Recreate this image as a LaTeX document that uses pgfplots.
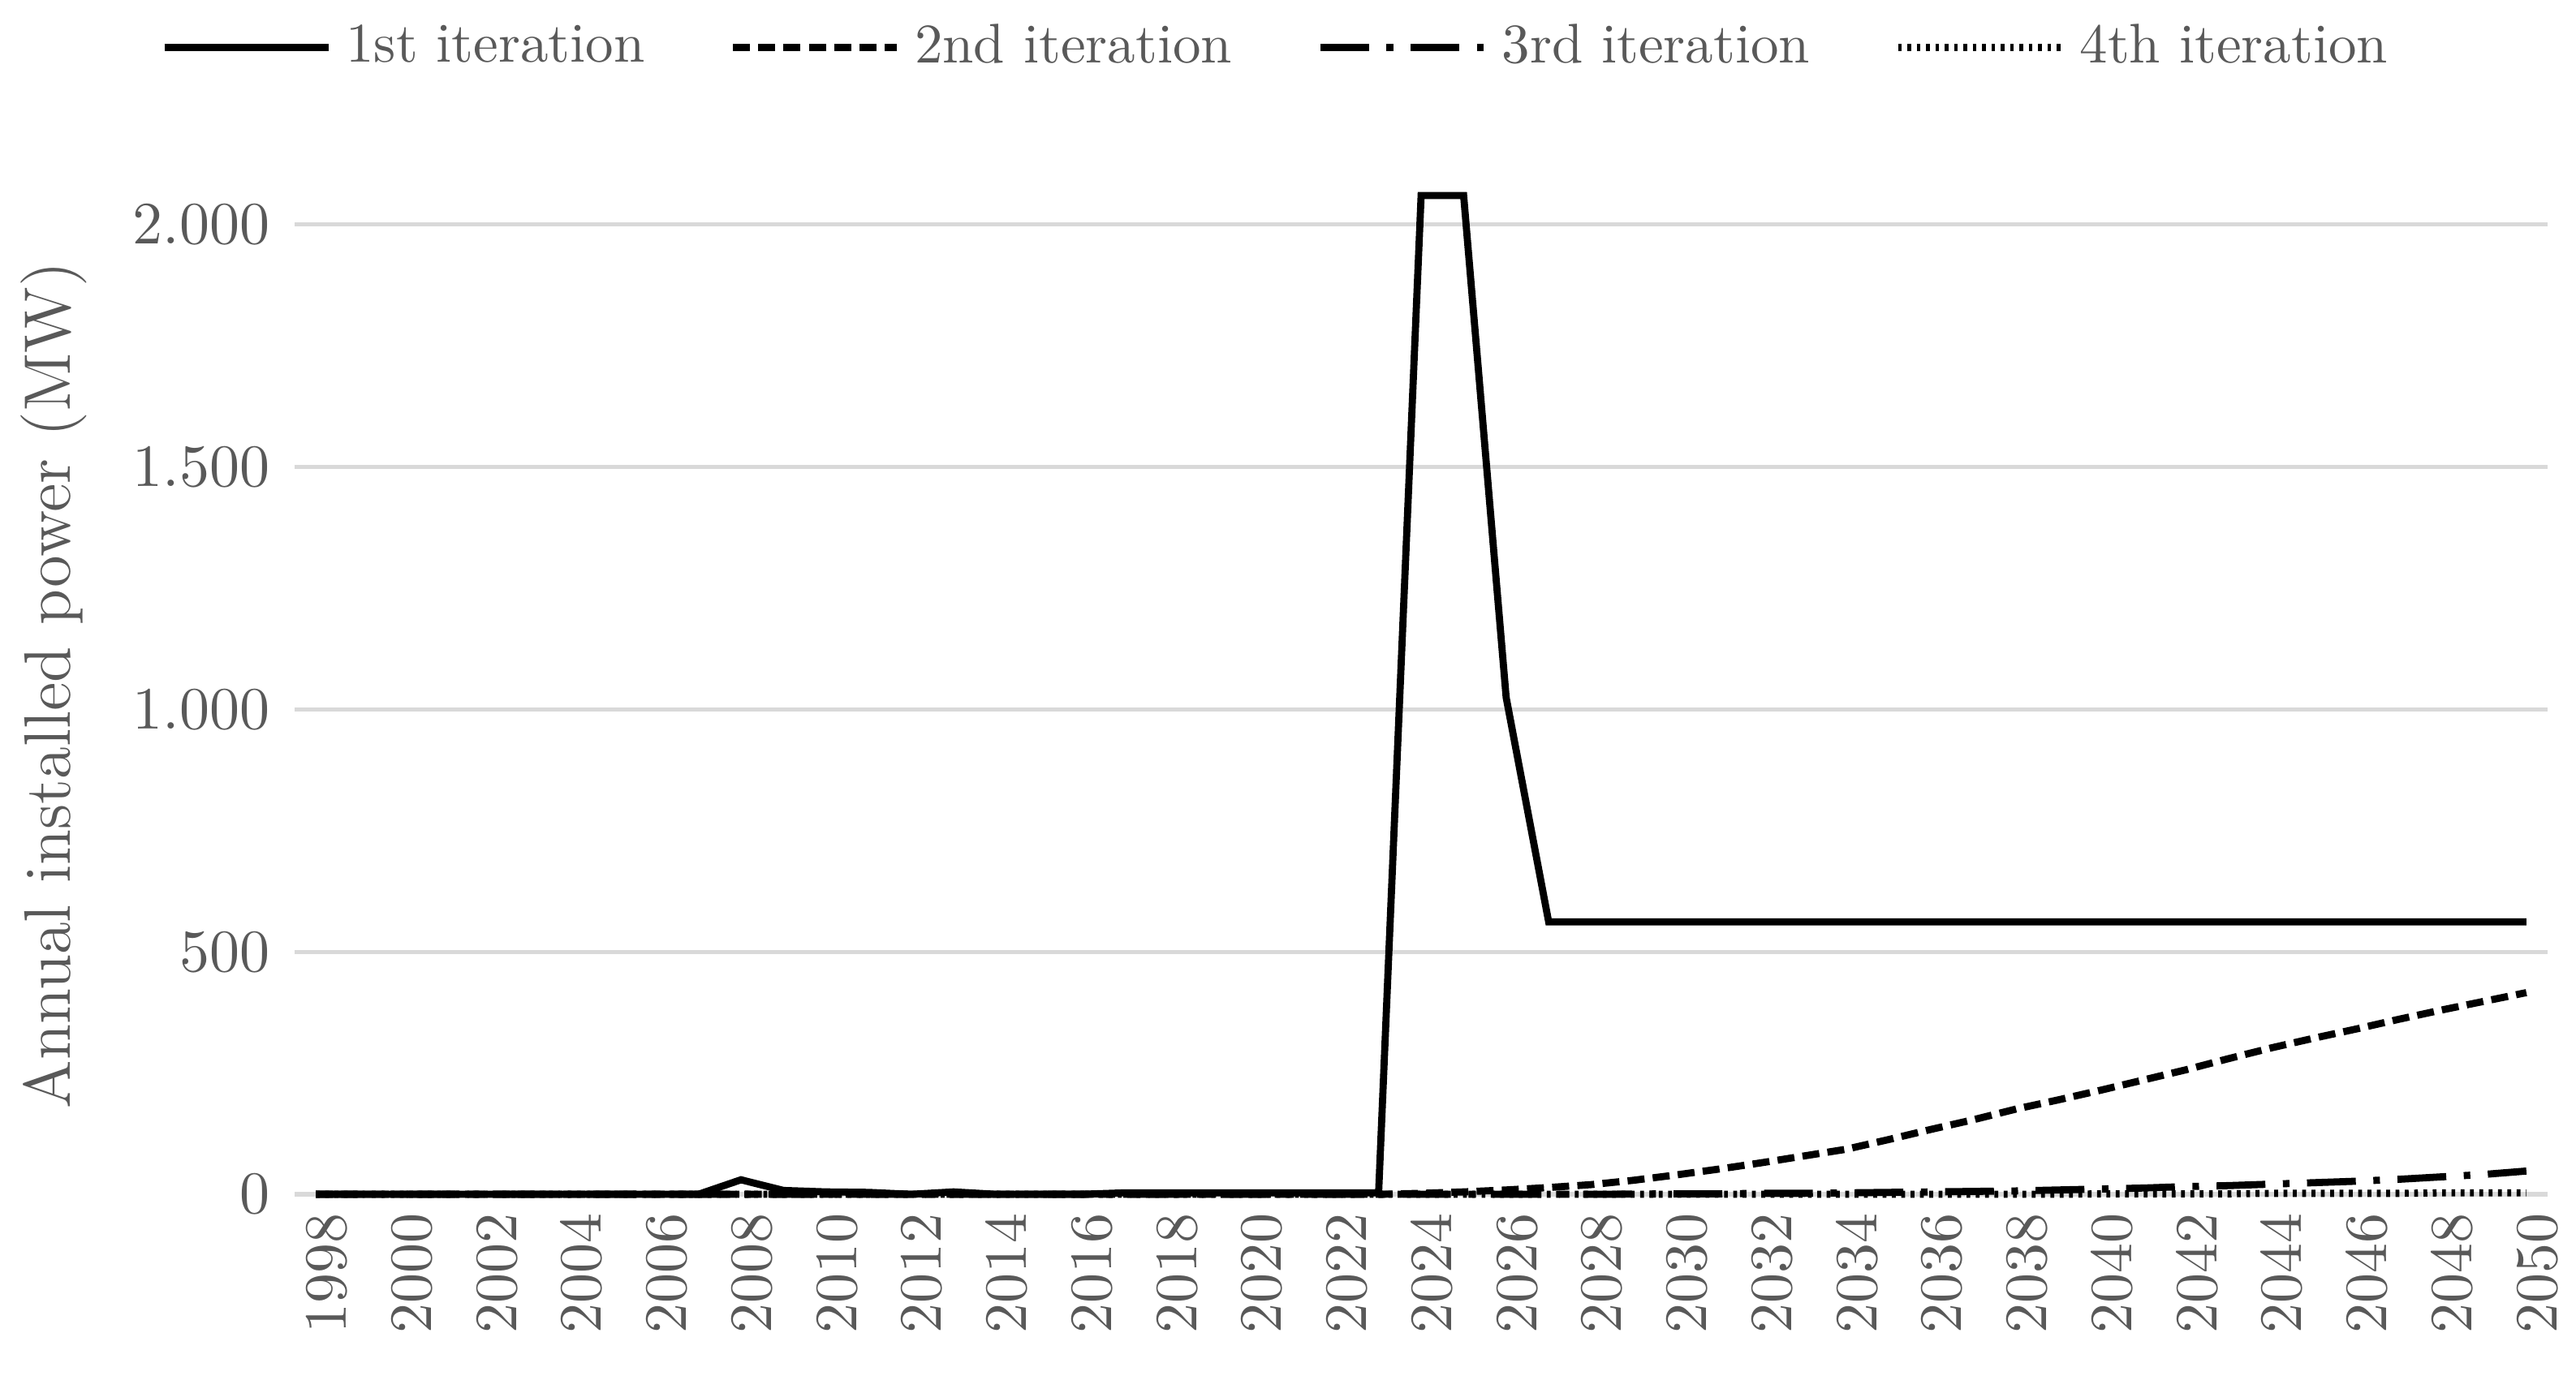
\documentclass[border=0pt]{standalone}
\usepackage{pgfplots}
\pgfplotsset{compat=1.18}
\definecolor{txt}{HTML}{595959}
\definecolor{gridc}{HTML}{D9D9D9}
\begin{document}
\begin{tikzpicture}
\begin{axis}[
  name=ax,
  width=14.435cm, height=6.526cm, scale only axis,
  xmin=1997.5, xmax=2050.5, ymin=0, ymax=2100,
  clip=false,
  axis line style={draw=none},
  ymajorgrids, major grid style={gridc, line width=0.8pt},
  xtick={1998,2000,...,2050},
  ytick={0,500,1000,1500,2000},
  major tick length=0pt,
  x tick label style={rotate=90, anchor=east, yshift=-2pt, font=\fontsize{10.7}{12}\selectfont, text=txt,
    /pgf/number format/.cd, 1000 sep={}},
  y tick label style={font=\fontsize{10.7}{12}\selectfont, text=txt, xshift=-1pt,
    /pgf/number format/.cd, 1000 sep={.}},
  ylabel={Annual installed power (MW)},
  ylabel style={at={(axis description cs:-0.107,0.5)}, anchor=center, font=\fontsize{12}{14}\selectfont, text=txt},
  legend style={at={(axis description cs:0.438,1.126)}, anchor=center, draw=none, fill=none,
    font=\fontsize{10.2}{12}\selectfont, text=txt, nodes={inner sep=2.6pt},
    /tikz/every even column/.append style={column sep=0.45cm}},
  legend columns=4,
  legend image code/.code={\draw[#1] (0cm,0cm) -- (1.05cm,0cm);},
  no markers,
]
\addplot[black, line width=1.3pt, solid] coordinates {
(1998,0)(1999,0)(2000,0)(2001,0)(2002,0)(2003,0)(2004,0)(2005,0)(2006,0)(2007,0)
(2008,30)(2009,8)(2010,5)(2011,4)(2012,0)(2013,5)(2014,0)(2015,0)(2016,0)(2017,3)
(2018,3)(2019,3)(2020,3)(2021,3)(2022,3)(2023,3)(2024,2060)(2025,2060)(2026,1025)(2027,562)
(2028,562)(2029,562)(2030,562)(2031,562)(2032,562)(2033,562)(2034,562)(2035,562)(2036,562)(2037,562)
(2038,562)(2039,562)(2040,562)(2041,562)(2042,562)(2043,562)(2044,562)(2045,562)(2046,562)(2047,562)
(2048,562)(2049,562)(2050,562)};
\addlegendentry{1st iteration}
\addplot[black, line width=1.3pt, dash pattern=on 3.1pt off 1.5pt] coordinates {
(1998,0)(1999,0)(2000,0)(2001,0)(2002,0)(2003,0)(2004,0)(2005,0)(2006,0)(2007,0)
(2008,0)(2009,0)(2010,0)(2011,0)(2012,0)(2013,0)(2014,0)(2015,0)(2016,0)(2017,0)
(2018,0)(2019,0)(2020,0)(2021,0)(2022,0)(2023,0)(2024,2)(2025,5)(2026,9)(2027,14)
(2028,20)(2029,29)(2030,40)(2031,52)(2032,65)(2033,79)(2034,93)(2035,113)(2036,134)(2037,154)
(2038,176)(2039,195)(2040,215)(2041,236)(2042,257)(2043,280)(2044,302)(2045,322)(2046,341)(2047,361)
(2048,380)(2049,398)(2050,416)};
\addlegendentry{2nd iteration}
\addplot[black, line width=1.3pt, dash pattern=on 8.9pt off 3.2pt on 1.2pt off 3.2pt] coordinates {
(1998,0)(1999,0)(2000,0)(2001,0)(2002,0)(2003,0)(2004,0)(2005,0)(2006,0)(2007,0)
(2008,0)(2009,0)(2010,0)(2011,0)(2012,0)(2013,0)(2014,0)(2015,0)(2016,0)(2017,0)
(2018,0)(2019,0)(2020,0)(2021,0)(2022,0)(2023,0)(2024,0)(2025,0)(2026,0)(2027,0)
(2028,0)(2029,0.5)(2030,1)(2031,1)(2032,2)(2033,2)(2034,3)(2035,4)(2036,5)(2037,6)
(2038,7)(2039,9)(2040,11)(2041,13)(2042,16)(2043,18)(2044,21)(2045,24)(2046,27)(2047,31)
(2048,36)(2049,41)(2050,48)};
\addlegendentry{3rd iteration}
\addplot[black, line width=1.3pt, dash pattern=on 0.7pt off 1.0pt] coordinates {
(1998,0)(1999,0)(2000,0)(2001,0)(2002,0)(2003,0)(2004,0)(2005,0)(2006,0)(2007,0)
(2008,0)(2009,0)(2010,0)(2011,0)(2012,0)(2013,0)(2014,0)(2015,0)(2016,0)(2017,0)
(2018,0)(2019,0)(2020,0)(2021,0)(2022,0)(2023,0)(2024,0)(2025,0)(2026,0)(2027,0)
(2028,0)(2029,0)(2030,0)(2031,0)(2032,0)(2033,0)(2034,0)(2035,0)(2036,0)(2037,0)
(2038,0)(2039,0)(2040,1)(2041,1)(2042,1)(2043,1)(2044,2)(2045,2)(2046,2)(2047,2)
(2048,3)(2049,3)(2050,3)};
\addlegendentry{4th iteration}
\end{axis}
\pgfresetboundingbox
\path ([xshift=-1.8876cm, yshift=-1.1596cm]ax.south west) rectangle ([xshift=0.182cm, yshift=1.1284cm]ax.north east);
\end{tikzpicture}
\end{document}
